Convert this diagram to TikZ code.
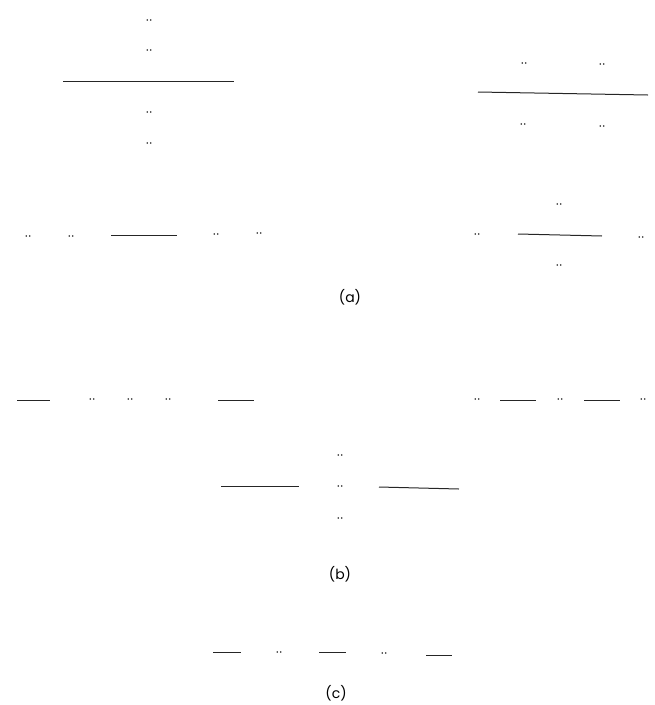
\documentclass[tikz,border=0pt]{standalone}
\usepackage{fontspec}
\setmainfont{Poppins}
\begin{document}
\begin{tikzpicture}[x=1pt,y=-1pt,
  bond/.style={line width=1pt, draw=black!85},
  pair/.style={inner sep=0pt, minimum width=5.4pt, minimum height=2.2pt,
    path picture={
      \fill[black!85] ([xshift=0.9pt]path picture bounding box.west) circle (0.9pt);
      \fill[black!85] ([xshift=-0.9pt]path picture bounding box.east) circle (0.9pt);}},
  caption/.style={font=\fontsize{14}{16}\selectfont, inner sep=0pt}]
\useasboundingbox (0,0) rectangle (655,705);

% ---- (a) upper left: bond with two pairs above and two below
\coordinate (a1l) at (63,81);
\coordinate (a1r) at (234,81);
\draw[bond] (a1l) -- (a1r);
\node[pair] (a1p1) at (149,20) {};
\node[pair] (a1p2) at (149,50) {};
\node[pair] (a1p3) at (149,112) {};
\node[pair] (a1p4) at (149,143) {};

% ---- (a) upper right: bond with two pairs on each side
\coordinate (a2l) at (478,92);
\coordinate (a2r) at (648,95);
\draw[bond] (a2l) -- (a2r);
\node[pair] (a2p1) at (524,63) {};
\node[pair] (a2p2) at (602,64) {};
\node[pair] (a2p3) at (523,124) {};
\node[pair] (a2p4) at (602,126) {};

% ---- (a) lower left: row of pairs around a bond
\coordinate (a3l) at (111,235);
\coordinate (a3r) at (177,235);
\draw[bond] (a3l) -- (a3r);
\node[pair] (a3p1) at (28,236) {};
\node[pair] (a3p2) at (71,236) {};
\node[pair] (a3p3) at (216,234) {};
\node[pair] (a3p4) at (259,233) {};

% ---- (a) lower right: bond with pairs at four sides
\coordinate (a4l) at (518,234);
\coordinate (a4r) at (602,236);
\draw[bond] (a4l) -- (a4r);
\node[pair] (a4p1) at (559,204) {};
\node[pair] (a4p2) at (477,234) {};
\node[pair] (a4p3) at (641,237) {};
\node[pair] (a4p4) at (559,265) {};

\node[caption] (capa) at (350,297) {(a)};

% ---- (b) upper left row
\coordinate (b1l) at (17,400);
\coordinate (b1m) at (50,400);
\coordinate (b1n) at (218,400);
\coordinate (b1r) at (254,400);
\draw[bond] (b1l) -- (b1m);
\draw[bond] (b1n) -- (b1r);
\node[pair] (b1p1) at (92,399) {};
\node[pair] (b1p2) at (130,399) {};
\node[pair] (b1p3) at (168,399) {};

% ---- (b) upper right row
\coordinate (b2a) at (500,400);
\coordinate (b2b) at (536,400);
\coordinate (b2c) at (584,400);
\coordinate (b2d) at (620,400);
\draw[bond] (b2a) -- (b2b);
\draw[bond] (b2c) -- (b2d);
\node[pair] (b2p1) at (477,399) {};
\node[pair] (b2p2) at (560,399) {};
\node[pair] (b2p3) at (643,399) {};

% ---- (b) middle: two bonds around a column of pairs
\coordinate (b3a) at (221,486);
\coordinate (b3b) at (299,486);
\coordinate (b3c) at (379,487);
\coordinate (b3d) at (459,489);
\draw[bond] (b3a) -- (b3b);
\draw[bond] (b3c) -- (b3d);
\node[pair] (b3p1) at (340,455) {};
\node[pair] (b3p2) at (340,486) {};
\node[pair] (b3p3) at (340,518) {};

\node[caption] (capb) at (340,574) {(b)};

% ---- (c) row
\coordinate (c1) at (213,652);
\coordinate (c2) at (241,652);
\coordinate (c3) at (319,652);
\coordinate (c4) at (346,652);
\coordinate (c5) at (426,655);
\coordinate (c6) at (452,655);
\draw[bond] (c1) -- (c2);
\draw[bond] (c3) -- (c4);
\draw[bond] (c5) -- (c6);
\node[pair] (cp1) at (279,652) {};
\node[pair] (cp2) at (384,653) {};

\node[caption] (capc) at (336,693) {(c)};
\end{tikzpicture}
\end{document}
